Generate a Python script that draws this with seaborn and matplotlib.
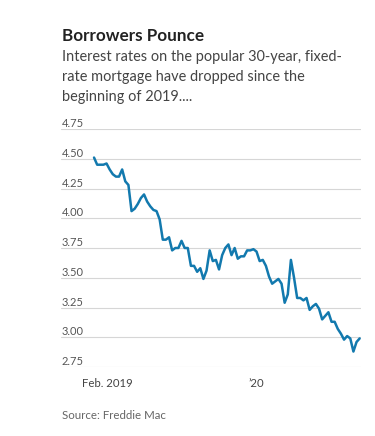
import matplotlib
matplotlib.use("Agg")
import matplotlib.pyplot as plt
import matplotlib.dates as mdates
import seaborn as sns
import pandas as pd
import numpy as np

# ---- data (Freddie Mac 30-year fixed rate, weekly) ----
start_date = "2019-01-03"
rates = [
    4.51, 4.45, 4.45, 4.45, 4.46,          # Jan 2019
    4.41, 4.37, 4.35, 4.35,                # Feb
    4.41, 4.31, 4.28, 4.06,                # Mar
    4.08, 4.12, 4.17, 4.20,                # Apr
    4.14, 4.10, 4.07, 4.06, 3.99,          # May
    3.82, 3.82, 3.84, 3.73,                # Jun
    3.75, 3.75, 3.81, 3.75,                # Jul
    3.75, 3.60, 3.60, 3.55, 3.58,          # Aug
    3.49, 3.56, 3.73, 3.64,                # Sep
    3.65, 3.57, 3.69, 3.75, 3.78,          # Oct
    3.69, 3.75, 3.66, 3.68,                # Nov
    3.68, 3.73, 3.73, 3.74,                # Dec
    3.72, 3.64, 3.65, 3.60, 3.51,          # Jan 2020
    3.45, 3.47, 3.49, 3.45,                # Feb
    3.29, 3.36, 3.65, 3.50,                # Mar
    3.33, 3.33, 3.31, 3.33, 3.23,          # Apr
    3.26, 3.28, 3.24, 3.15,                # May
    3.18, 3.21, 3.13, 3.13,                # Jun
    3.07, 3.03, 2.98, 3.01, 2.99,          # Jul
    2.88, 2.96, 2.99,                      # Aug
]
y_ticks = [2.75, 3.00, 3.25, 3.50, 3.75, 4.00, 4.25, 4.50, 4.75]
y_tick_labels = ["2.75", "3.00", "3.25", "3.50", "3.75", "4.00", "4.25", "4.50", "4.75"]
month_ticks = pd.date_range("2019-02-01", "2020-08-01", freq="MS")
x_label_dates = ["2019-02-01", "2020-01-01"]
x_label_texts = ["Feb. 2019", "\u201920"]

title = "Borrowers Pounce"
subtitle = ["Interest rates on the popular 30-year, fixed-",
            "rate mortgage have dropped since the",
            "beginning of 2019...."]
source = "Source: Freddie Mac"

dates = pd.date_range(start_date, periods=len(rates), freq="W-THU")
df = pd.DataFrame({"date": dates, "rate": rates})

sns.set_theme(style="white")
plt.rcParams["font.family"] = ["Lato", "DejaVu Sans"]

W, H = 375, 436
fig = plt.figure(figsize=(W / 100, H / 100), dpi=100)
ax_left, ax_right, ax_bottom, ax_top = 61, 361, 367, 129
ax = fig.add_axes([ax_left / W, 1 - ax_bottom / H, (ax_right - ax_left) / W, (ax_bottom - ax_top) / H])

sns.lineplot(data=df, x="date", y="rate", ax=ax, color="#1279ae", linewidth=1.8)

ax.set_ylim(2.75, 4.75)
ax.set_xlim(pd.Timestamp("2018-10-21"), pd.Timestamp("2020-08-23"))
ax.set_xlabel("")
ax.set_ylabel("")
for s in ax.spines.values():
    s.set_visible(False)

ax.set_yticks(y_ticks)
ax.set_yticklabels([])
ax.tick_params(axis="y", length=0)
ax.grid(axis="y", color="#d6d6d6", linewidth=0.8)
ax.grid(axis="x", visible=False)
ax.set_axisbelow(True)
trans = matplotlib.transforms.blended_transform_factory(ax.transAxes, ax.transData)
for v, lab in zip(y_ticks, y_tick_labels):
    ax.text(0.003, v, lab, transform=trans, ha="left", va="bottom",
            fontsize=8, color="#555555")

ax.set_xticks(month_ticks)
ax.set_xticklabels([])
ax.tick_params(axis="x", which="major", length=2.2, width=0.8, color="#333333", direction="out")
ax.set_xticks([pd.Timestamp("2020-01-01")], minor=True)
ax.tick_params(axis="x", which="minor", length=4.5, width=0.8, color="#333333", direction="out")
transx = matplotlib.transforms.blended_transform_factory(ax.transData, fig.transFigure)
for d, lab in zip(x_label_dates, x_label_texts):
    ax.text(mdates.date2num(pd.Timestamp(d)), 1 - 387 / H, lab, transform=transx,
            ha="center", va="baseline", fontsize=8.2, color="#444444")

fig.text(62 / W, 1 - 40.7 / H, title, fontsize=12.3, fontweight="bold", color="#222222",
         ha="left", va="baseline")
for i, line in enumerate(subtitle):
    fig.text(62 / W, 1 - (61 + 20 * i) / H, line, fontsize=10.45, color="#444444",
             ha="left", va="baseline")
fig.text(62 / W, 1 - 419.3 / H, source, fontsize=8.3, color="#666666",
         ha="left", va="baseline")

fig.savefig("out.png", dpi=100)
